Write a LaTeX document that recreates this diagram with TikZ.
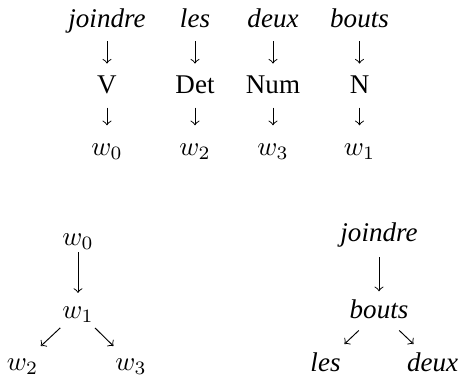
\documentclass[tikz,border=0pt]{standalone}
\usepackage[no-math]{fontspec}
\setmainfont{Liberation Serif}
\usetikzlibrary{arrows}
\tikzset{
  wd/.style ={font=\itshape, inner sep=0pt, text height=7pt, text depth=2pt, anchor=base},
  tg/.style ={inner sep=0pt, text height=7pt, text depth=2pt, anchor=base},
  e/.style  ={->, draw=black, line width=0.35pt},
  dn/.style ={e, shorten <=3.1pt, shorten >=3.8pt},
}

\begin{document}
\begin{tikzpicture}[x=0.37pt, y=-0.37pt]
\useasboundingbox (0,0) rectangle (459,376);
% sentence, tags, word order
\node[wd] (joindre) at (107,27)   {joindre};
\node[wd] (les)     at (195,27)   {les};
\node[wd] (deux)    at (273,27)   {deux};
\node[wd] (bouts)   at (359.5,27) {bouts};
\node[tg] (v)   at (107,93.3)   {V};
\node[tg] (det) at (195,93.3)   {Det};
\node[tg] (num) at (273,93.3)   {Num};
\node[tg] (n)   at (359.5,93.3) {N};
\node[tg] (wa) at (107,155)   {$w_0$};
\node[tg] (wb) at (195,155)   {$w_2$};
\node[tg] (wc) at (273,155)   {$w_3$};
\node[tg] (wd) at (359.5,155) {$w_1$};
\draw[dn] (joindre) -- (v);  \draw[dn] (les) -- (det);
\draw[dn] (deux) -- (num);   \draw[dn] (bouts) -- (n);
\draw[dn] (v) -- (wa);       \draw[dn] (det) -- (wb);
\draw[dn] (num) -- (wc);     \draw[dn] (n) -- (wd);
% left tree
\node[tg] (t0) at (78,245)   {$w_0$};
\node[tg] (t1) at (78,318)   {$w_1$};
\node[tg] (t2) at (22.5,370) {$w_2$};
\node[tg] (t3) at (131,370)  {$w_3$};
\draw[e, shorten <=0.5pt, shorten >=2.1pt] (t0) -- (t1);
\draw[e, shorten <=2.1pt, shorten >=2.4pt] (t1) -- (t2);
\draw[e, shorten <=2.1pt, shorten >=2.4pt] (t1) -- (t3);
% right tree
\node[wd] (rjoindre) at (379,241.7) {joindre};
\node[wd] (rbouts)   at (379,318)   {bouts};
\node[wd, text depth=0pt] (rles)  at (325.5,371.5) {les};
\node[wd, text depth=0pt] (rdeux) at (432.5,371.5) {deux};
\draw[e, shorten <=3.5pt, shorten >=2.7pt] (rjoindre) -- (rbouts);
\draw[e, shorten <=3.5pt, shorten >=4.3pt] (rbouts) -- (rles);
\draw[e, shorten <=3.5pt, shorten >=4.3pt] (rbouts) -- (rdeux);
\end{tikzpicture}
\end{document}
